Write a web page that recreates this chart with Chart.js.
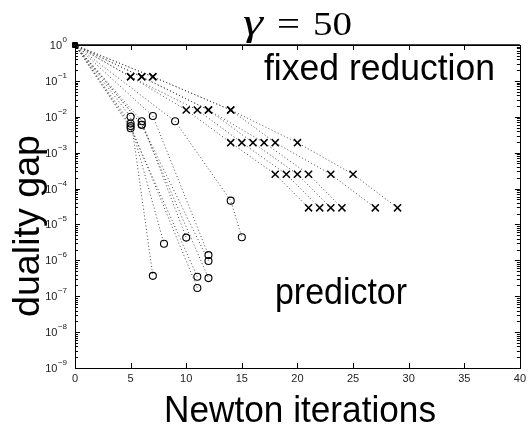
<!DOCTYPE html>
<html><head><meta charset="utf-8">
<style>html,body{margin:0;padding:0;background:#fff}#wrap{width:530px;height:428px}</style>
<script src="https://cdn.jsdelivr.net/npm/chart.js@4/dist/chart.umd.min.js"></script>
</head><body><div id="wrap"><canvas id="c" width="530" height="428"></canvas></div>
<script>
// ---- data ----
const startIter = 0;
const startGap = 1;
// "fixed reduction": gap level after each outer step
const fixedGapLevels = [0.13, 0.0155, 0.0019, 2.5e-4, 2.9e-5];
// Newton iterations at which each run reaches those levels
const fixedRunIters = [
  [5, 10, 14, 18, 21],
  [5, 11, 15, 19, 22],
  [6, 12, 16, 20, 23],
  [6, 12, 17, 21, 24],
  [7, 14, 18, 23, 27],
  [7, 14, 20, 25, 29]
];
// "predictor" runs
const predictorRunIters = [[5, 7], [5, 8], [5, 11], [5, 11], [6, 10], [6, 12], [6, 12], [7, 12], [9, 14, 15]];
const predictorRunGaps = [
  [1.0e-2, 3.7e-7], [6.5e-3, 2.9e-6], [5.5e-3, 1.7e-7], [4.8e-3, 3.5e-7],
  [7.5e-3, 4.3e-6], [6.0e-3, 3.2e-7], [6.0e-3, 9.6e-7], [1.05e-2, 1.4e-6],
  [7.5e-3, 4.6e-5, 4.4e-6]
];
const xTickValues = [0, 5, 10, 15, 20, 25, 30, 35, 40];
const yTickExponents = [0, -1, -2, -3, -4, -5, -6, -7, -8, -9];
const titleParts = ['γ', '=', '50'];
const xTitle = 'Newton iterations';
const yTitle = 'duality gap';
const labelFixed = 'fixed reduction';
const labelPredictor = 'predictor';

// ---- build datasets ----
const lineStyle = {showLine: true, borderColor: '#4a4a4a', borderWidth: 1, borderDash: [1, 2.4], clip: false};
const datasets = [];
fixedRunIters.forEach(iters => {
  const pts = [{x: startIter, y: startGap}].concat(iters.map((it, i) => ({x: it, y: fixedGapLevels[i]})));
  datasets.push(Object.assign({}, lineStyle, {
    data: pts, pointStyle: 'crossRot',
    pointRadius: c => c.dataIndex === 0 ? 0 : 5,
    pointBorderColor: '#000', pointBorderWidth: 1.5, pointBackgroundColor: '#000'
  }));
});
predictorRunIters.forEach((iters, r) => {
  const pts = [{x: startIter, y: startGap}].concat(iters.map((it, i) => ({x: it, y: predictorRunGaps[r][i]})));
  datasets.push(Object.assign({}, lineStyle, {
    data: pts, pointStyle: 'circle',
    pointRadius: c => c.dataIndex === 0 ? 0 : 3.5,
    pointBorderColor: '#000', pointBorderWidth: 1.1, pointBackgroundColor: 'rgba(0,0,0,0)'
  }));
});
datasets.push({data: [{x: startIter, y: startGap}], pointStyle: 'rect', pointRadius: 3.5,
  pointBackgroundColor: '#000', pointBorderColor: '#000', showLine: false, clip: false});

function drawFit(ctx, text, font, x, y, w, rot) {
  ctx.save();
  ctx.font = font;
  const m = ctx.measureText(text).width;
  ctx.translate(x, y);
  if (rot) ctx.rotate(rot);
  ctx.scale(w / m, 1);
  ctx.textAlign = rot ? 'center' : 'left';
  ctx.textBaseline = 'alphabetic';
  ctx.fillStyle = '#000';
  ctx.fillText(text, 0, 0);
  ctx.restore();
}

const decor = {
  id: 'decor',
  afterDraw(chart) {
    const {ctx, chartArea: a, scales: {x, y}} = chart;
    ctx.save();
    ctx.strokeStyle = '#000';
    ctx.lineWidth = 1;
    yTickExponents.forEach(e => {
      const p = Math.round(y.getPixelForValue(Math.pow(10, e))) + 0.5;
      ctx.beginPath();
      ctx.moveTo(a.left, p); ctx.lineTo(a.left + 5, p);
      ctx.moveTo(a.right, p); ctx.lineTo(a.right - 5, p);
      ctx.stroke();
      if (e < 0) {
        for (let m = 2; m <= 9; m++) {
          const q = Math.round(y.getPixelForValue(m * Math.pow(10, e))) + 0.5;
          ctx.beginPath();
          ctx.moveTo(a.left, q); ctx.lineTo(a.left + 3, q);
          ctx.moveTo(a.right, q); ctx.lineTo(a.right - 3, q);
          ctx.stroke();
        }
      }
    });
    xTickValues.forEach(v => {
      const p = Math.round(x.getPixelForValue(v)) + 0.5;
      ctx.beginPath();
      ctx.moveTo(p, a.bottom); ctx.lineTo(p, a.bottom - 5);
      ctx.moveTo(p, a.top); ctx.lineTo(p, a.top + 5);
      ctx.stroke();
    });
    ctx.strokeRect(Math.round(a.left) + 0.5, Math.round(a.top) + 0.5, Math.round(a.right - a.left), Math.round(a.bottom - a.top));
    ctx.lineWidth = 1.5;
    ctx.beginPath(); ctx.moveTo(a.left, a.top); ctx.lineTo(a.right, a.top); ctx.stroke();
    ctx.fillStyle = '#222';
    yTickExponents.forEach(e => {
      const p = y.getPixelForValue(Math.pow(10, e));
      const ex = e === 0 ? '0' : '\u2212' + (-e);
      ctx.font = '8px "Liberation Sans", Arial, sans-serif';
      const ew = ctx.measureText(ex).width;
      ctx.textAlign = 'left'; ctx.textBaseline = 'alphabetic';
      ctx.fillText(ex, 67 - ew, p - 3);
      ctx.font = '11px "Liberation Sans", Arial, sans-serif';
      ctx.textAlign = 'right'; ctx.textBaseline = 'middle';
      ctx.fillText('10', 67 - ew - 0.5, p + 1);
    });
    ctx.restore();
    drawFit(ctx, titleParts[0], 'italic 38px "Liberation Serif", serif', 243, 35, 20);
    drawFit(ctx, titleParts[1], '34px "Liberation Serif", serif', 277, 35, 23);
    drawFit(ctx, titleParts[2], '34px "Liberation Serif", serif', 313, 35, 39);
    drawFit(ctx, labelFixed, '37px "Liberation Sans", Arial, sans-serif', 264, 80, 231);
    drawFit(ctx, labelPredictor, '36px "Liberation Sans", Arial, sans-serif', 275, 304, 132);
    drawFit(ctx, xTitle, '37px "Liberation Sans", Arial, sans-serif', 164, 422, 272);
    drawFit(ctx, yTitle, '37px "Liberation Sans", Arial, sans-serif', 39, 226, 182, -Math.PI / 2);
  }
};

new Chart(document.getElementById('c'), {
  type: 'scatter',
  data: {datasets},
  options: {
    responsive: false, animation: false, devicePixelRatio: 1,
    layout: {padding: {top: 45, right: 8, left: 0, bottom: 0}},
    plugins: {legend: {display: false}, tooltip: {enabled: false}, title: {display: false}},
    scales: {
      x: {
        type: 'linear', min: 0, max: 40,
        afterBuildTicks: s => { s.ticks = xTickValues.map(v => ({value: v})); },
        ticks: {padding: 4, color: '#222', font: {family: '"Liberation Sans", Arial, sans-serif', size: 11}, maxRotation: 0, autoSkip: false},
        grid: {display: false, drawTicks: false}, border: {display: false},
        afterFit: s => { s.height = 60; }
      },
      y: {
        type: 'logarithmic', min: 1e-9, max: 1,
        afterBuildTicks: s => { s.ticks = yTickExponents.map(e => ({value: Math.pow(10, e)})); },
        ticks: {display: false},
        grid: {display: false, drawTicks: false}, border: {display: false},
        afterFit: s => { s.width = 75; }
      }
    }
  },
  plugins: [decor]
});
</script></body></html>
